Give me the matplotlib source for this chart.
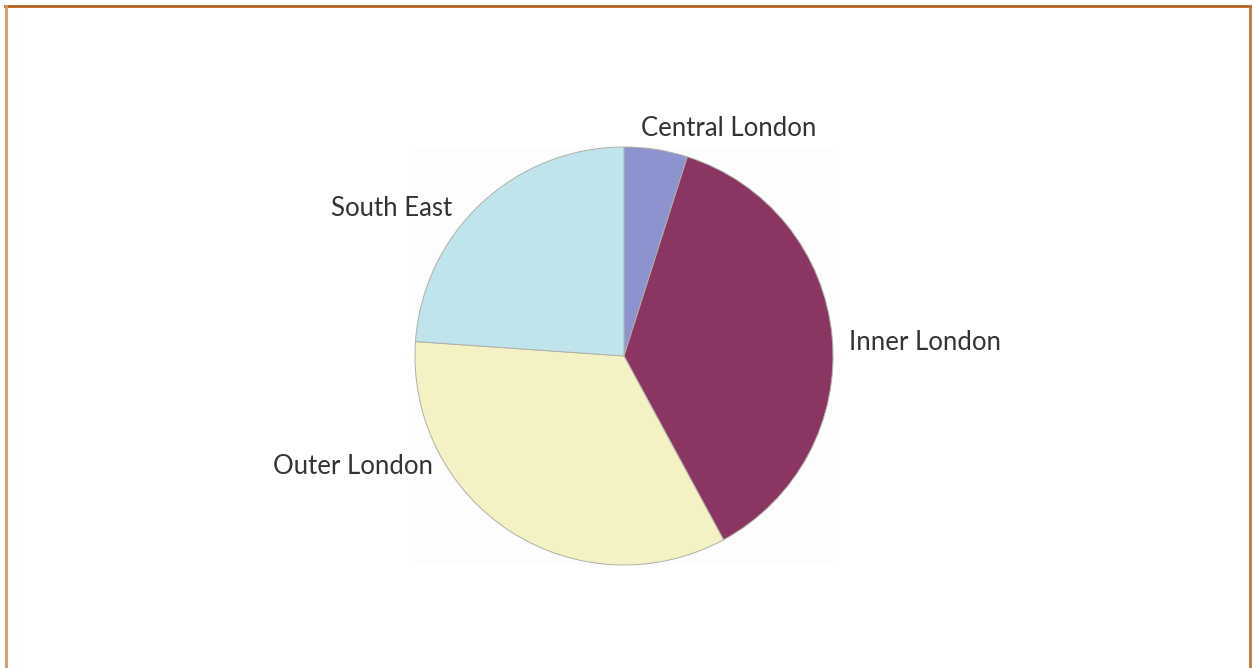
import matplotlib.pyplot as plt
from matplotlib.patches import Rectangle
from matplotlib.lines import Line2D

regions = ["Central London", "Inner London", "Outer London", "South East"]
shares = [4.9, 37.2, 34.0, 23.9]
colours = ["#8C93CE", "#8B3562", "#F4F2C4", "#BFE4EC"]

# label anchor positions (pixels from top-left) and alignment
label_pos = [(641, 128, "left"), (849, 342, "left"), (433, 467, "right"), (452, 209, "right")]

W, H = 1252, 668
fig = plt.figure(figsize=(W / 100, H / 100), dpi=100)
ax = fig.add_axes([0, 0, 1, 1])
ax.set_xlim(0, W)
ax.set_ylim(0, H)
ax.set_aspect("equal")
ax.axis("off")

cx, cy, r = 624, H - 356, 209

# faint square behind the pie
ax.add_patch(Rectangle((cx - r, cy - r), 2 * r, 2 * r, facecolor="#FDFDFE",
                       edgecolor="none", zorder=0))

wedges, texts = ax.pie(shares, labels=regions, colors=colours, startangle=90,
                       counterclock=False, center=(cx, cy), radius=r,
                       wedgeprops=dict(edgecolor="#B0B0A8", linewidth=0.7),
                       textprops=dict(fontsize=18.5, family="Lato", color="#333333"))
ax.set_xlim(0, W)
ax.set_ylim(0, H)

for t, (x, y, ha) in zip(texts, label_pos):
    t.set_position((x, H - y))
    t.set_ha(ha)
    t.set_va("center")

# outer frame: top, left and right edges
fig.add_artist(Line2D([5 / W, 1 - 1.5 / W], [1 - 6 / H, 1 - 6 / H], color="#B8621E",
                      linewidth=2, transform=fig.transFigure))
fig.add_artist(Line2D([6 / W, 6 / W], [0, 1 - 6 / H], color="#D49A60",
                      linewidth=2, transform=fig.transFigure))
fig.add_artist(Line2D([1 - 2 / W, 1 - 2 / W], [0, 1 - 6 / H], color="#C4762F",
                      linewidth=2, transform=fig.transFigure))

fig.savefig("out.png", dpi=100, facecolor="white")
